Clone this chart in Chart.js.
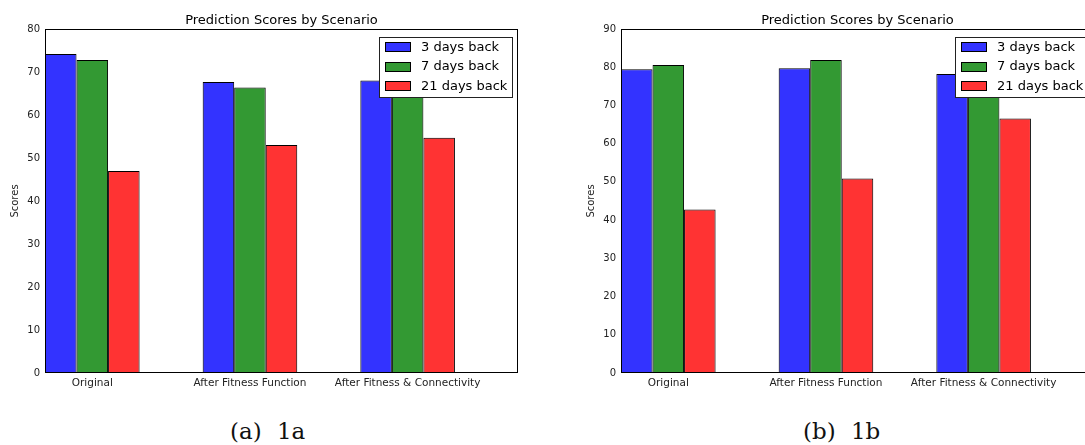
<!DOCTYPE html>
<html>
<head>
<meta charset="utf-8">
<script src="https://cdn.jsdelivr.net/npm/chart.js@4"></script>
<style>
  html, body { margin: 0; padding: 0; background: #fff; width: 1085px; height: 445px; overflow: hidden; position: relative; }
  canvas { position: absolute; top: 0; }
  #chart1a { left: 0; }
  #chart1b { left: 576px; }
  .caption { position: absolute; top: 420px; font-family: "DejaVu Serif", serif; font-size: 23px; line-height: 23px; color: #111; word-spacing: 8px; white-space: nowrap; }
</style>
</head>
<body>
<canvas id="chart1a" width="545" height="400"></canvas>
<canvas id="chart1b" width="545" height="400"></canvas>
<div class="caption" style="left:230px">(a) 1a</div>
<div class="caption" style="left:803px">(b) 1b</div>
<script>
// Categories, series names and tick settings
const scenarios = ['Original', 'After Fitness Function', 'After Fitness & Connectivity'];
const seriesLabels = ['3 days back', '7 days back', '21 days back'];
const chartTitle = 'Prediction Scores by Scenario';
const axisLabel = 'Scores';
const yMax1a = 80;
const yMax1b = 90;
const yStep = 10;

// Panel 1a scores
const scores1a_3days = [74.2, 67.7, 68.0];
const scores1a_7days = [72.8, 66.4, 66.5];
const scores1a_21days = [47.0, 53.0, 54.7];

// Panel 1b scores
const scores1b_3days = [79.5, 79.7, 78.2];
const scores1b_7days = [80.6, 81.9, 79.0];
const scores1b_21days = [42.8, 50.9, 66.6];

const barColors = ['rgba(0,0,255,0.8)', 'rgba(0,128,0,0.8)', 'rgba(255,0,0,0.8)'];
const FONT = '"DejaVu Sans", sans-serif';

// Box frame around the plot area
const framePlugin = {
  id: 'frame',
  afterDatasetsDraw(chart) {
    const { ctx, chartArea: a } = chart;
    ctx.save();
    ctx.strokeStyle = '#000';
    ctx.lineWidth = 1;
    ctx.strokeRect(Math.round(a.left) + 0.5, Math.round(a.top) + 0.5,
                   Math.round(a.right - a.left) - 1, Math.round(a.bottom - a.top) - 1);
    ctx.restore();
  }
};

// Legend box drawn inside the top-right corner of the plot area
const innerLegendPlugin = {
  id: 'innerLegend',
  afterDraw(chart) {
    const { ctx, chartArea: a } = chart;
    const sets = chart.data.datasets;
    ctx.save();
    ctx.font = '13px ' + FONT;
    let maxW = 0;
    sets.forEach(d => { maxW = Math.max(maxW, ctx.measureText(d.label).width); });
    const w = Math.round(42 + maxW + 6);
    const h = 61;
    const right = Math.round(a.right) - 5;
    const left = right - w;
    const top = Math.round(a.top) + 8;
    ctx.fillStyle = '#fff';
    ctx.fillRect(left, top, w, h);
    ctx.strokeStyle = '#222';
    ctx.lineWidth = 1;
    ctx.strokeRect(left + 0.5, top + 0.5, w - 1, h - 1);
    sets.forEach((d, i) => {
      const cy = top + 10 + i * 19.5;
      ctx.fillStyle = d.backgroundColor;
      ctx.fillRect(left + 6, Math.round(cy - 5), 26, 10);
      ctx.strokeStyle = '#000';
      ctx.strokeRect(left + 6.5, Math.round(cy - 5) + 0.5, 25, 9);
      ctx.fillStyle = '#000';
      ctx.textBaseline = 'middle';
      ctx.textAlign = 'left';
      ctx.fillText(d.label, left + 42, cy + 0.5);
    });
    ctx.restore();
  }
};

function toPoints(values) {
  return values.map((v, i) => ({ x: i, y: v }));
}

function buildChart(canvasId, seriesValues, yMax) {
  const datasets = seriesValues.map((vals, k) => ({
    label: seriesLabels[k],
    data: toPoints(vals),
    backgroundColor: barColors[k],
    borderColor: '#000',
    borderWidth: 1,
    categoryPercentage: 0.6,
    barPercentage: 1.0
  }));
  return new Chart(document.getElementById(canvasId), {
    type: 'bar',
    data: { datasets },
    plugins: [framePlugin, innerLegendPlugin],
    options: {
      responsive: false,
      animation: false,
      layout: { padding: { left: 0, right: 27, top: 0, bottom: 0 } },
      plugins: {
        legend: { display: false },
        tooltip: { enabled: false },
        title: {
          display: true,
          text: chartTitle,
          fullSize: false,
          color: '#000',
          font: { family: FONT, size: 13, weight: 'normal' },
          padding: { top: 13, bottom: 0.4 }
        }
      },
      scales: {
        x: {
          type: 'linear',
          min: -0.3,
          max: scenarios.length - 0.3,
          offset: false,
          grid: { display: false, drawTicks: false, offset: false },
          border: { display: false },
          afterBuildTicks: s => { s.ticks = scenarios.map((_, i) => ({ value: i })); },
          afterFit: s => { s.height = 27; },
          ticks: {
            autoSkip: false,
            maxRotation: 0,
            padding: 4,
            color: '#222',
            font: { family: FONT, size: 10.5 },
            callback: v => scenarios[v]
          }
        },
        y: {
          min: 0,
          max: yMax,
          grid: { display: false, drawTicks: false },
          border: { display: false },
          afterFit: s => { s.width = 45; },
          ticks: {
            stepSize: yStep,
            padding: 5,
            color: '#222',
            font: { family: FONT, size: 10 }
          },
          title: {
            display: true,
            text: axisLabel,
            color: '#222',
            font: { family: FONT, size: 10 },
            padding: { top: 9, bottom: 0 }
          }
        }
      }
    }
  });
}

buildChart('chart1a', [scores1a_3days, scores1a_7days, scores1a_21days], yMax1a);
buildChart('chart1b', [scores1b_3days, scores1b_7days, scores1b_21days], yMax1b);
</script>
</body>
</html>
